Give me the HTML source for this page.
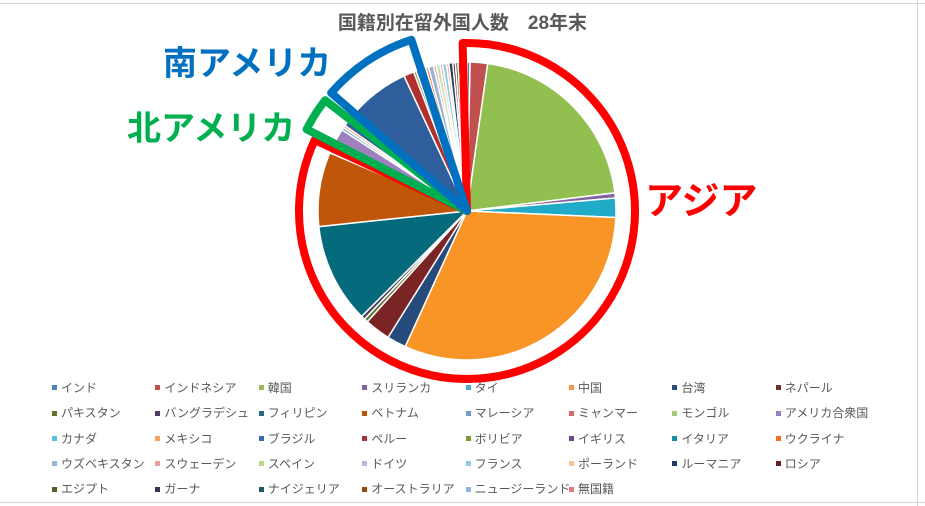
<!DOCTYPE html>
<html><head><meta charset="utf-8"><style>
body{margin:0;width:925px;height:506px;background:#fff;overflow:hidden;font-family:"Liberation Sans","Noto Sans CJK JP",sans-serif;}
#t{position:absolute;left:0;width:925px;top:8px;text-align:center;font-size:19px;font-weight:bold;color:#595959;padding-left:0px;}
.lg{position:absolute;font-size:12px;color:#595959;white-space:nowrap;}
.lg i{display:inline-block;width:5px;height:5px;margin-right:4px;vertical-align:middle;position:relative;top:-1px;}
.an{position:absolute;font-weight:bold;font-family:"Liberation Sans","Noto Sans CJK JP",sans-serif;}
</style></head><body>
<svg width="925" height="506" style="position:absolute;left:0;top:0" id="s">
<line x1="0" y1="3.5" x2="925" y2="3.5" stroke="#d4d4d4"/>
<line x1="917.5" y1="0" x2="917.5" y2="506" stroke="#d4d4d4"/>
<line x1="0" y1="502.5" x2="925" y2="502.5" stroke="#d4d4d4"/>
</svg>
<div id="t">国籍別在留外国人数　28年末</div>
<div class="an" style="left:163px;top:36px;font-size:34px;color:#0070c0">南アメリカ</div>
<div class="an" style="left:127px;top:101px;font-size:34px;color:#00b050">北アメリカ</div>
<div class="an" style="left:645px;top:170px;font-size:38px;color:#ff0000">アジア</div>
<div id="L"></div>
<script>
var cx=467,cy=211,r=149;
var sl=[
[0,1.2,'#4f81bd'],[1.2,8,'#c0504d'],[8,83,'#92c050'],[83,85,'#8064a2'],[85,92.5,'#20acc8'],
[92.5,204.5,'#f99526'],[204.5,212,'#264b7a'],[212,222,'#7b2426'],[222,223.5,'#5f7530'],[223.5,225,'#4d3b62'],
[225,264,'#056a7c'],[264,293,'#c0560a'],[293,294.2,'#729aca'],[294.2,295,'#d9676a'],[295,296,'#b0ca7e'],
[296,303,'#a07fbf'],[303,304,'#4bacc6'],[304,305,'#f79646'],[305,335,'#2e5f9c'],[335,339,'#b0302e'],
[339,340,'#7a9a3a'],[340,343,'#6a4a8a'],[343,344,'#3a9fb5'],[344,345,'#f07020'],[345,347,'#95b3d7'],
[347,348,'#e6a0a0'],[348,349.5,'#cfe0a8'],[349.5,350.5,'#c6b4d8'],[350.5,352,'#93cddd'],[352,353,'#fac090'],
[353,354.5,'#1f3864'],[354.5,355.5,'#632523'],[355.5,356.5,'#4f6228'],[356.5,357.5,'#3f3151'],[357.5,358.5,'#215867'],[358.5,359.3,'#984807'],[359.3,360,'#8db3e2']];
function P(a,rr){var t=a*Math.PI/180;return [cx+rr*Math.sin(t),cy-rr*Math.cos(t)];}
function sec(a0,a1,rr){var p=P(a0,rr),q=P(a1,rr);return 'M'+cx+','+cy+'L'+p[0].toFixed(2)+','+p[1].toFixed(2)+'A'+rr+','+rr+' 0 '+(a1-a0>180?1:0)+' 1 '+q[0].toFixed(2)+','+q[1].toFixed(2)+'Z';}
var h='';
sl.forEach(function(s){h+='<path d="'+sec(s[0],s[1],r)+'" fill="'+s[2]+'" stroke="#fff" stroke-width="1.5" stroke-linejoin="round"/>';});
h+='<path d="'+sec(-1.5,295,168)+'" fill="none" stroke="#ff0000" stroke-width="8" stroke-linejoin="round"/>';
h+='<path d="'+sec(297,308,180)+'" fill="none" stroke="#00b050" stroke-width="8" stroke-linejoin="round"/>';
h+='<path d="'+sec(311,342,180)+'" fill="none" stroke="#0070c0" stroke-width="8" stroke-linejoin="round"/>';
document.getElementById('s').insertAdjacentHTML('beforeend',h);
var names=['インド','インドネシア','韓国','スリランカ','タイ','中国','台湾','ネパール','パキスタン','バングラデシュ','フィリピン','ベトナム','マレーシア','ミャンマー','モンゴル','アメリカ合衆国','カナダ','メキシコ','ブラジル','ペルー','ボリビア','イギリス','イタリア','ウクライナ','ウズベキスタン','スウェーデン','スペイン','ドイツ','フランス','ポーランド','ルーマニア','ロシア','エジプト','ガーナ','ナイジェリア','オーストラリア','ニュージーランド','無国籍'];
var cols=['#4f81bd','#c0504d','#9bbb59','#8064a2','#4bacc6','#f79646','#2c4d75','#772c2a','#5f7530','#4d3b62','#276a7c','#b65708','#729aca','#d9676a','#a9c97a','#9b7fc0','#5bc0de','#f9a15a','#3a6aa8','#a83232','#7a9a3a','#6a4a8a','#1590a0','#f07020','#95b3d7','#e6a0a0','#b8d88a','#c6b4d8','#93cddd','#fac090','#1f3864','#632523','#4f6228','#3f3151','#215867','#984807','#8db3e2','#e07a7a'];
var L='';
names.forEach(function(n,i){var c=i%8,rw=Math.floor(i/8);L+='<div class="lg" style="left:'+(52+c*103.4)+'px;top:'+(379+rw*25.3)+'px"><i style="background:'+cols[i]+'"></i>'+n+'</div>';});
document.getElementById('L').innerHTML=L;
</script>
</body></html>
